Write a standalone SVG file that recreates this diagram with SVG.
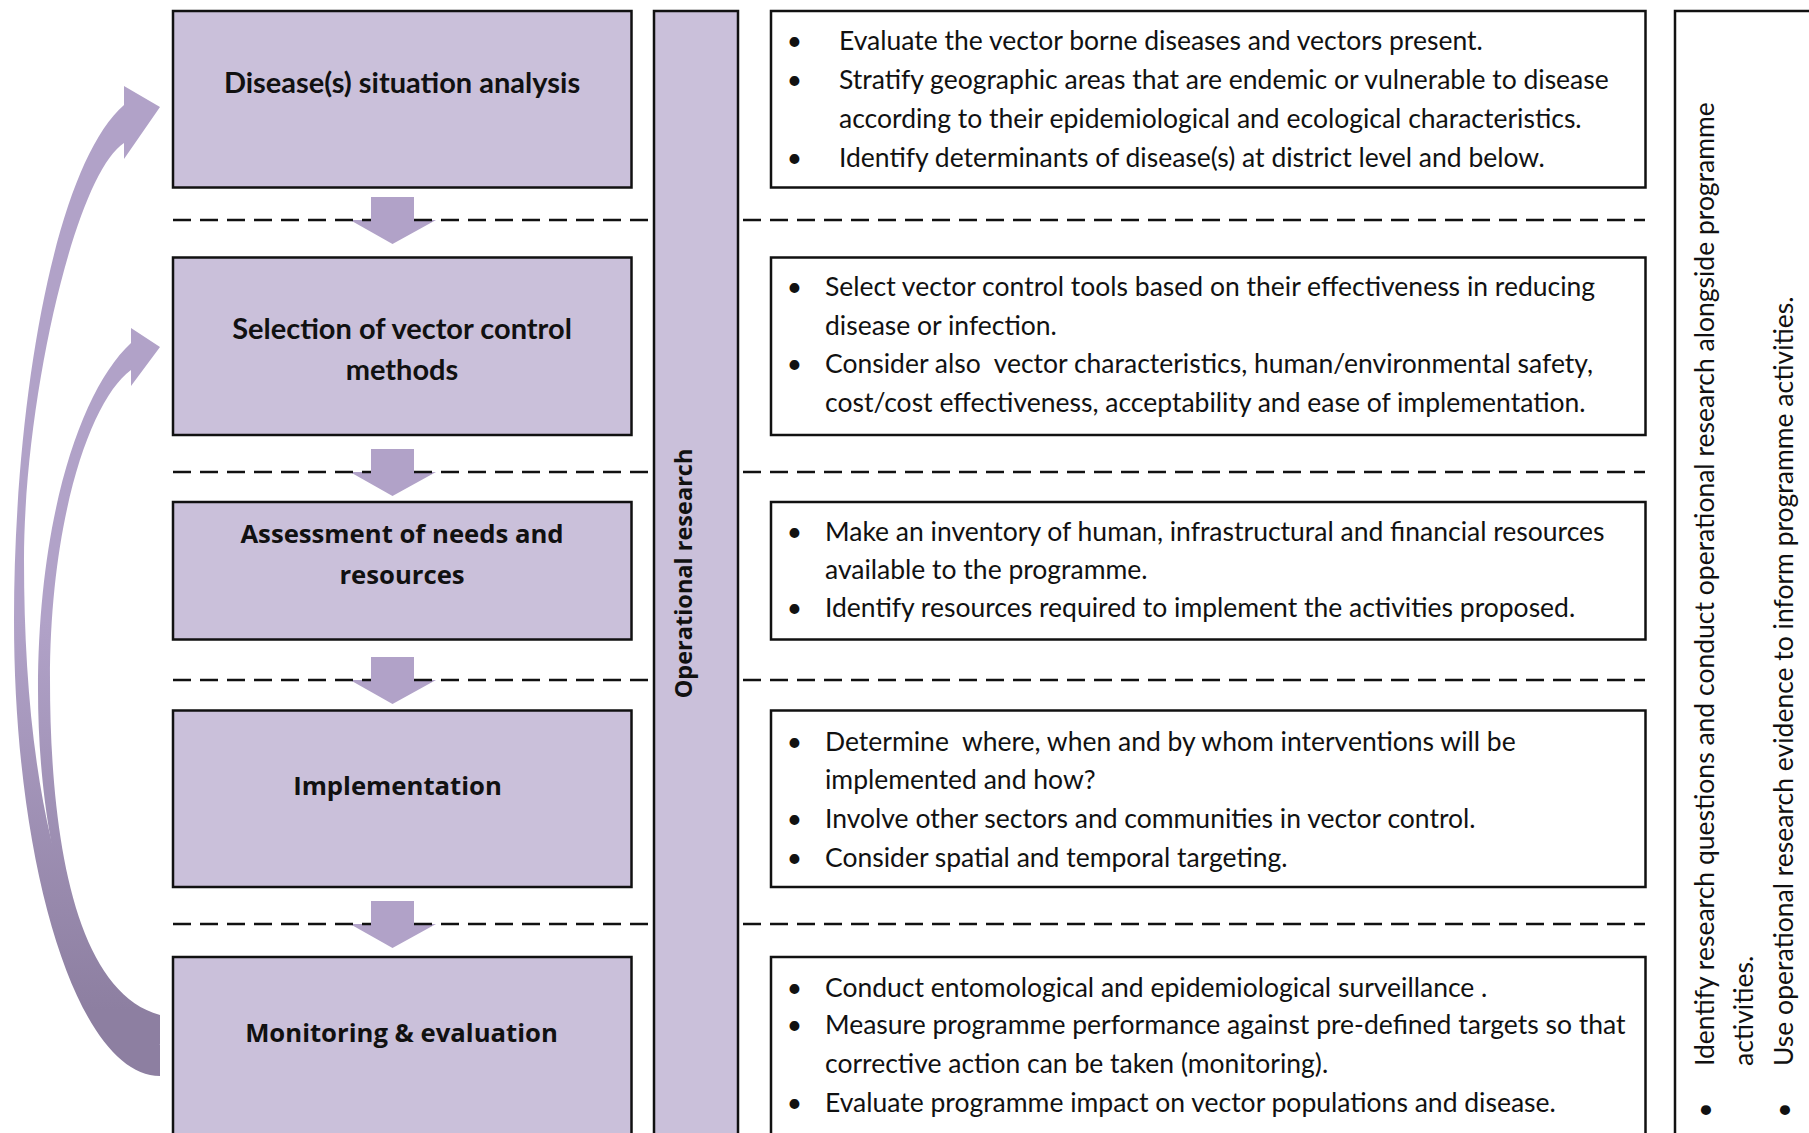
<svg xmlns="http://www.w3.org/2000/svg" xmlns:xlink="http://www.w3.org/1999/xlink" width="1809" height="1133" viewBox="0 0 1809 1133">
  <style>
    .stage { fill: #CAC0DA; stroke: #111; stroke-width: 2.5; }
    .panel { fill: #FFFFFF; stroke: #111; stroke-width: 2.5; }
    .sep { stroke: #111; stroke-width: 2.5; stroke-dasharray: 18 9; fill: none; }
    .flow { fill: #B1A2C8; }
    .lbl { font-family: Lato, "Open Sans", sans-serif; font-weight: 700; font-size: 29px; fill: #111; text-anchor: middle; }
    .lbl2 { font-family: "Open Sans", Lato, sans-serif; font-weight: 700; font-size: 25.7px; fill: #111; text-anchor: middle; }
    .body { font-family: Lato, "Open Sans", sans-serif; font-size: 26.5px; fill: #111; }
    .bul { font-family: Lato, "Open Sans", sans-serif; font-size: 26.5px; fill: #111; text-anchor: middle; }
    .vert { font-family: "Open Sans", Lato, sans-serif; font-weight: 700; font-size: 23.5px; fill: #111; text-anchor: middle; }
  </style>
  <defs>
    <linearGradient id="loopShade" gradientUnits="userSpaceOnUse" x1="0" y1="620" x2="0" y2="1010">
      <stop offset="0" stop-color="#B1A2C8"/>
      <stop offset="1" stop-color="#8D7FA1"/>
    </linearGradient>
    <!-- block arrow pointing down; y=0 is the separator line -->
    <path id="stepArrow" d="M371,-23 H414 V0 H436 L392.5,24 L350,0 H371 Z"/>
  </defs>

  <rect width="1809" height="1133" fill="#FFFFFF"/>

  <!-- connectors: step arrows and feedback loops -->
  <g id="connectors">
    <use xlink:href="#stepArrow" class="flow" y="220"/>
    <use xlink:href="#stepArrow" class="flow" y="472"/>
    <use xlink:href="#stepArrow" class="flow" y="680"/>
    <use xlink:href="#stepArrow" class="flow" y="924"/>
    <!-- loop back to situation analysis -->
    <path id="loop-outer" fill="url(#loopShade)" d="M160,107 L124,159 L124,143 C75,175 24,400 24,560 C24,780 60,960 160,1045 L160,1076 C79,1076 14,872 14,620 C14,400 55,165 124,105 L124,86 Z"/>
    <!-- loop back to selection of methods -->
    <path id="loop-inner" fill="url(#loopShade)" d="M160,347 L131,386 L131,370 C90,400 50,520 50,680 C50,820 70,990 160,1015 L160,1045 C80,1010 38,850 38,690 C38,520 80,390 131,343 L131,328 Z"/>
  </g>

  <!-- dashed separators between stages -->
  <g id="separators">
    <path class="sep" d="M173,220 H371 M414,220 H654 M743,220 H1645"/>
    <path class="sep" d="M173,472 H371 M414,472 H654 M743,472 H1645"/>
    <path class="sep" d="M173,680 H371 M414,680 H654 M743,680 H1645"/>
    <path class="sep" d="M173,924 H371 M414,924 H654 M743,924 H1645"/>
  </g>

  <g id="situation-analysis">
    <rect class="stage" x="173" y="11" width="458.5" height="176.5"/>
    <text class="lbl" x="402" y="92.5">Disease(s) situation analysis</text>
  </g>
  <g id="method-selection">
    <rect class="stage" x="173" y="257.5" width="458.5" height="177.5"/>
    <text class="lbl" x="402" y="338.5">Selection of vector control</text>
    <text class="lbl" x="402" y="379.5">methods</text>
  </g>
  <g id="needs-assessment">
    <rect class="stage" x="173" y="502" width="458.5" height="137.5"/>
    <text class="lbl2" x="402" y="542.5">Assessment of needs and</text>
    <text class="lbl2" x="402" y="583.5">resources</text>
  </g>
  <g id="implementation">
    <rect class="stage" x="173" y="710.5" width="458.5" height="176.5"/>
    <text class="lbl2" x="397.5" y="794.5">Implementation</text>
  </g>
  <g id="monitoring">
    <rect class="stage" x="173" y="957" width="458.5" height="200"/>
    <text class="lbl2" x="401.5" y="1042">Monitoring &amp; evaluation</text>
  </g>

  <g id="operational-research">
    <rect class="stage" x="654" y="11" width="84" height="1150"/>
    <text class="vert" transform="translate(691.5,573.5) rotate(-90)">Operational research</text>
  </g>

  <g id="analysis-tasks">
    <rect class="panel" x="771" y="11" width="874.5" height="176.5"/>
    <text class="bul" x="794.5" y="50">•</text>
    <text class="body" x="839" y="50">Evaluate the vector borne diseases and vectors present.</text>
    <text class="bul" x="794.5" y="89">•</text>
    <text class="body" x="839" y="89">Stratify geographic areas that are endemic or vulnerable to disease</text>
    <text class="body" x="839" y="128">according to their epidemiological and ecological characteristics.</text>
    <text class="bul" x="794.5" y="167">•</text>
    <text class="body" x="839" y="167">Identify determinants of disease(s) at district level and below.</text>
  </g>

  <g id="selection-tasks">
    <rect class="panel" x="771" y="257.5" width="874.5" height="177.5"/>
    <text class="bul" x="794.5" y="296">•</text>
    <text class="body" x="825" y="296">Select vector control tools based on their effectiveness in reducing</text>
    <text class="body" x="825" y="334.5">disease or infection.</text>
    <text class="bul" x="794.5" y="373">•</text>
    <text class="body" x="825" y="373" xml:space="preserve">Consider also  vector characteristics, human/environmental safety,</text>
    <text class="body" x="825" y="412">cost/cost effectiveness, acceptability and ease of implementation.</text>
  </g>

  <g id="assessment-tasks">
    <rect class="panel" x="771" y="502" width="874.5" height="137.5"/>
    <text class="bul" x="794.5" y="540.5">•</text>
    <text class="body" x="825" y="540.5">Make an inventory of human, infrastructural and financial resources</text>
    <text class="body" x="825" y="578.5">available to the programme.</text>
    <text class="bul" x="794.5" y="617">•</text>
    <text class="body" x="825" y="617">Identify resources required to implement the activities proposed.</text>
  </g>

  <g id="implementation-tasks">
    <rect class="panel" x="771" y="710.5" width="874.5" height="176.5"/>
    <text class="bul" x="794.5" y="750.5">•</text>
    <text class="body" x="825" y="750.5" xml:space="preserve">Determine  where, when and by whom interventions will be</text>
    <text class="body" x="825" y="789">implemented and how?</text>
    <text class="bul" x="794.5" y="827.5">•</text>
    <text class="body" x="825" y="827.5">Involve other sectors and communities in vector control.</text>
    <text class="bul" x="794.5" y="866.5">•</text>
    <text class="body" x="825" y="866.5">Consider spatial and temporal targeting.</text>
  </g>

  <g id="monitoring-tasks">
    <rect class="panel" x="771" y="957" width="874.5" height="200"/>
    <text class="bul" x="794.5" y="997">•</text>
    <text class="body" x="825" y="997">Conduct entomological and epidemiological surveillance .</text>
    <text class="bul" x="794.5" y="1034">•</text>
    <text class="body" x="825" y="1034">Measure programme performance against pre-defined targets so that</text>
    <text class="body" x="825" y="1073">corrective action can be taken (monitoring).</text>
    <text class="bul" x="794.5" y="1112">•</text>
    <text class="body" x="825" y="1112">Evaluate programme impact on vector populations and disease.</text>
  </g>

  <g id="research-tasks">
    <rect class="panel" x="1675" y="11" width="200" height="1150"/>
    <text class="bul" transform="translate(1714,1110) rotate(-90)">•</text>
    <text class="body" transform="translate(1714,1066) rotate(-90)">Identify research questions and conduct operational research alongside programme</text>
    <text class="body" transform="translate(1753,1066) rotate(-90)">activities.</text>
    <text class="bul" transform="translate(1793,1110) rotate(-90)">•</text>
    <text class="body" transform="translate(1793,1066) rotate(-90)">Use operational research evidence to inform programme activities.</text>
  </g>
</svg>
